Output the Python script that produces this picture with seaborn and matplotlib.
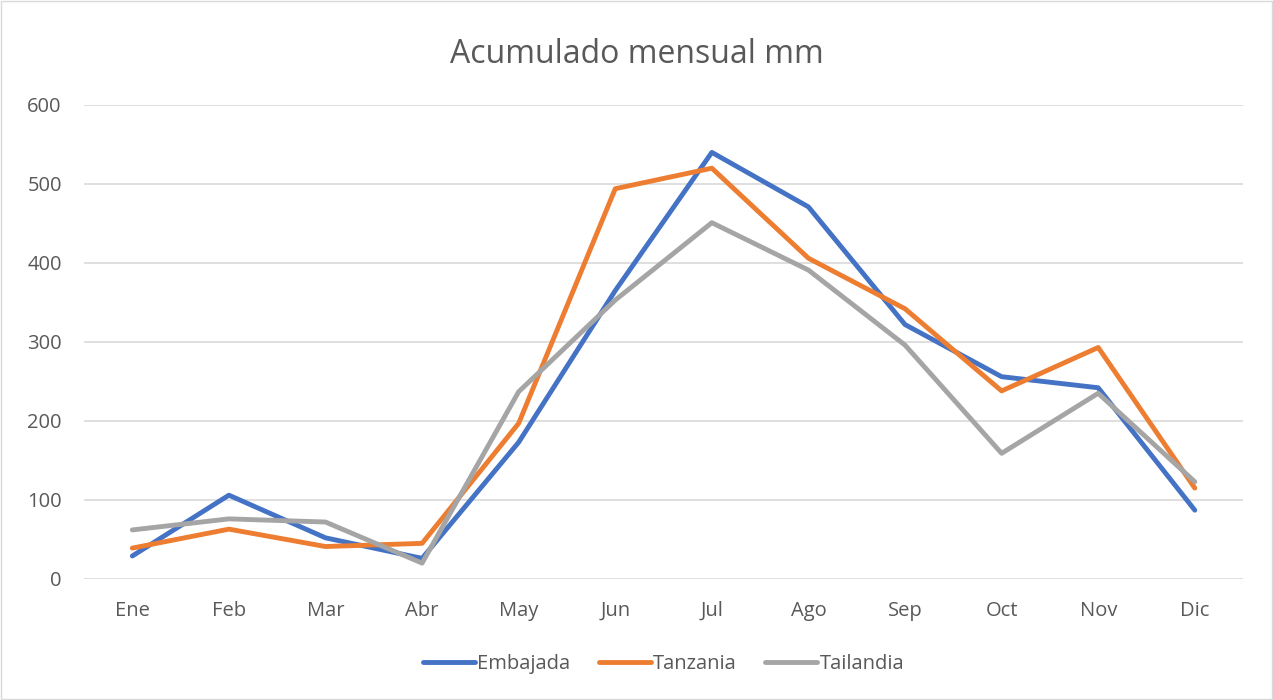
import pandas as pd
import matplotlib.pyplot as plt
import seaborn as sns
from matplotlib.patches import Rectangle

# Datos
meses = ['Ene', 'Feb', 'Mar', 'Abr', 'May', 'Jun', 'Jul', 'Ago', 'Sep', 'Oct', 'Nov', 'Dic']
embajada = [29, 106, 52, 26, 173, 365, 540, 471, 322, 256, 242, 87]
tanzania = [39, 63, 41, 45, 197, 494, 520, 406, 342, 238, 293, 115]
tailandia = [62, 76, 72, 20, 237, 353, 451, 391, 296, 159, 235, 123]
series = ['Embajada', 'Tanzania', 'Tailandia']
colores = ['#4472C4', '#ED7D31', '#A5A5A5']

df = pd.DataFrame({'mes': meses, 'Embajada': embajada, 'Tanzania': tanzania, 'Tailandia': tailandia})
df_long = df.melt(id_vars='mes', value_vars=series, var_name='serie', value_name='mm')
df_long['x'] = df_long['mes'].map({m: i for i, m in enumerate(meses)})

sns.set_style('white')
plt.rcParams['font.family'] = ['Open Sans', 'DejaVu Sans']
texto = '#595959'

fig = plt.figure(figsize=(12.73, 7), dpi=100)
ax = fig.add_axes([0.066, 0.173, 0.9105, 0.677])

sns.lineplot(data=df_long, x='x', y='mm', hue='serie', hue_order=series,
             palette=colores, linewidth=3.5, ax=ax, legend=True)

ax.set_xlim(-0.5, 11.5)
ax.set_ylim(0, 600)
ax.set_yticks(range(0, 601, 100))
ax.set_xticks(range(len(meses)))
ax.set_xticklabels(meses)
ax.tick_params(axis='both', length=0, labelsize=14.5, colors=texto)
ax.tick_params(axis='x', pad=16)
ax.tick_params(axis='y', pad=16)
ax.grid(axis='y', color='#D9D9D9', linewidth=1.2)
ax.set_axisbelow(True)
for s in ax.spines.values():
    s.set_visible(False)
ax.set_xlabel('')
ax.set_ylabel('')

fig.suptitle('Acumulado mensual mm', y=0.946, fontsize=23, color=texto)

ax.legend(loc='upper center', bbox_to_anchor=(0.5, -0.12), ncol=3, frameon=False,
          fontsize=14.5, labelcolor=texto, handlelength=2.6, handletextpad=0.1,
          columnspacing=1.4)

fig.patches.append(Rectangle((0.001, 0.001), 0.998, 0.997, transform=fig.transFigure,
                             fill=False, edgecolor='#D9D9D9', linewidth=1))

fig.savefig('out.png', dpi=100)
